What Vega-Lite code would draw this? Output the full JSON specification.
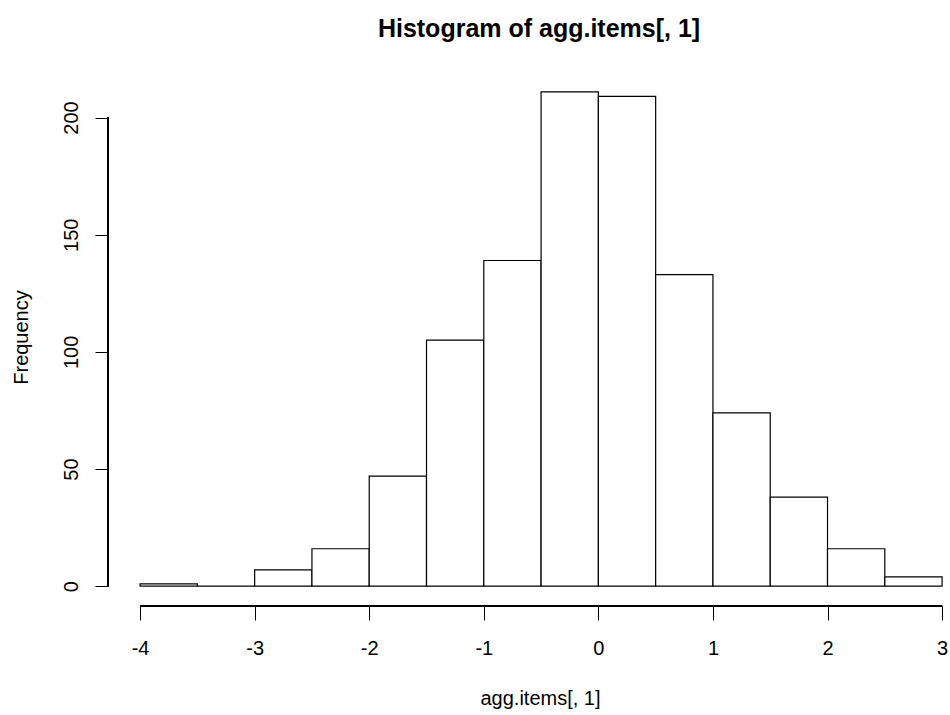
{
  "$schema": "https://vega.github.io/schema/vega-lite/v6.json",
  "width": 842,
  "height": 534,
  "autosize": "none",
  "padding": {"left": 108, "top": 72, "right": 0, "bottom": 109},
  "background": "white",
  "config": {"view": {"stroke": null}, "font": "Liberation Sans"},
  "title": {
    "text": "Histogram of agg.items[, 1]",
    "font": "Liberation Sans",
    "fontSize": 25,
    "fontWeight": "bold",
    "color": "black",
    "anchor": "middle",
    "baseline": "alphabetic",
    "dx": 10,
    "offset": 10
  },
  "data": {
    "values": [
      {"bin_start": -4.0, "bin_end": -3.5, "count": 1},
      {"bin_start": -3.5, "bin_end": -3.0, "count": 0},
      {"bin_start": -3.0, "bin_end": -2.5, "count": 7},
      {"bin_start": -2.5, "bin_end": -2.0, "count": 16},
      {"bin_start": -2.0, "bin_end": -1.5, "count": 47},
      {"bin_start": -1.5, "bin_end": -1.0, "count": 105},
      {"bin_start": -1.0, "bin_end": -0.5, "count": 139},
      {"bin_start": -0.5, "bin_end": 0.0, "count": 211},
      {"bin_start": 0.0, "bin_end": 0.5, "count": 209},
      {"bin_start": 0.5, "bin_end": 1.0, "count": 133},
      {"bin_start": 1.0, "bin_end": 1.5, "count": 74},
      {"bin_start": 1.5, "bin_end": 2.0, "count": 38},
      {"bin_start": 2.0, "bin_end": 2.5, "count": 16},
      {"bin_start": 2.5, "bin_end": 3.0, "count": 4}
    ]
  },
  "layer": [
    {
      "mark": {"type": "rect", "fill": "white", "stroke": "black", "strokeWidth": 1.2},
      "encoding": {
        "x": {
          "field": "bin_start",
          "type": "quantitative",
          "scale": {"domain": [-4.28, 3.069], "nice": false, "zero": false},
          "axis": {
            "values": [-4, -3, -2, -1, 0, 1, 2, 3],
            "domain": false,
            "grid": false,
            "tickColor": "black",
            "tickSize": 14,
            "tickWidth": 1,
            "labelExpr": "'' + datum.value",
            "labelFont": "Liberation Sans",
            "labelFontSize": 20,
            "labelColor": "black",
            "labelBaseline": "alphabetic",
            "labelPadding": 34,
            "labelFlush": false,
            "labelOverlap": false,
            "title": "agg.items[, 1]",
            "titleFont": "Liberation Sans",
            "titleFontSize": 20,
            "titleFontWeight": "normal",
            "titleColor": "black",
            "titleBaseline": "alphabetic",
            "titleX": 432,
            "titleY": 98
          }
        },
        "x2": {"field": "bin_end"},
        "y": {
          "field": "count",
          "type": "quantitative",
          "scale": {"domain": [-8.44, 219.44], "nice": false, "zero": false},
          "axis": {
            "values": [0, 50, 100, 150, 200],
            "domain": false,
            "grid": false,
            "tickColor": "black",
            "tickSize": 13,
            "tickWidth": 1,
            "labelAngle": -90,
            "labelAlign": "center",
            "labelBaseline": "alphabetic",
            "labelPadding": 18,
            "labelFont": "Liberation Sans",
            "labelFontSize": 20,
            "labelColor": "black",
            "labelOverlap": false,
            "labelFlush": false,
            "title": "Frequency",
            "titleFont": "Liberation Sans",
            "titleFontSize": 20,
            "titleFontWeight": "normal",
            "titleColor": "black",
            "titleAngle": -90,
            "titleAlign": "center",
            "titleBaseline": "alphabetic",
            "titleX": -81,
            "titleY": 265
          }
        },
        "y2": {"datum": 0}
      }
    },
    {
      "mark": {"type": "rule", "color": "black", "strokeWidth": 1.2},
      "encoding": {
        "x": {"datum": -4},
        "x2": {"datum": 3},
        "y": {"datum": -8.44}
      }
    },
    {
      "mark": {"type": "rule", "color": "black", "strokeWidth": 1.2},
      "encoding": {
        "x": {"datum": -4.28},
        "y": {"datum": 0},
        "y2": {"datum": 200}
      }
    }
  ]
}
